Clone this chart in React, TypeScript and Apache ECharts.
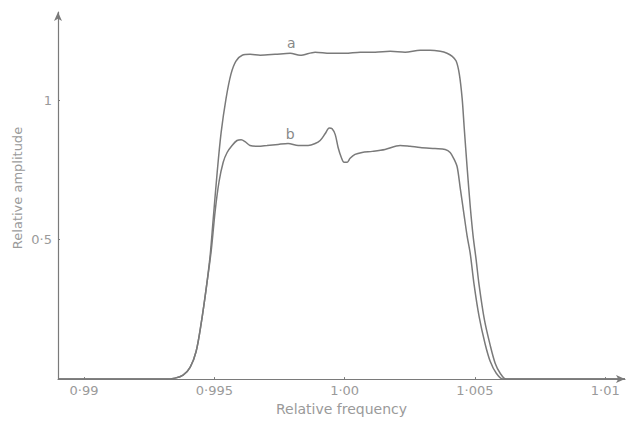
import React, { useEffect, useRef } from "react";
import * as echarts from "echarts";

// Relative frequency / amplitude
const aFreq = [0.989, 0.99311, 0.99349, 0.9938, 0.99407, 0.9943, 0.99449, 0.99468, 0.99484, 0.99495, 0.99511, 0.99526, 0.99545, 0.99564, 0.99583, 0.99607, 0.99637, 0.99676, 0.99733, 0.99791, 0.99829, 0.99887, 0.99944, 1.00002, 1.0006, 1.00117, 1.00175, 1.00232, 1.0029, 1.00328, 1.00367, 1.00393, 1.00413, 1.00428, 1.0044, 1.00451, 1.00459, 1.0047, 1.00482, 1.00493, 1.00505, 1.00516, 1.00536, 1.00559, 1.00578, 1.00597, 1.0062, 1.01076];
const aAmp = [0, 0, 0.0035, 0.014, 0.042, 0.099, 0.197, 0.32, 0.444, 0.567, 0.743, 0.884, 1.007, 1.095, 1.141, 1.162, 1.165, 1.162, 1.165, 1.169, 1.162, 1.173, 1.169, 1.169, 1.173, 1.173, 1.176, 1.173, 1.18, 1.18, 1.176, 1.169, 1.158, 1.141, 1.095, 1.007, 0.901, 0.761, 0.62, 0.514, 0.426, 0.338, 0.215, 0.12, 0.056, 0.021, 0, 0];

const bFreq = [0.989, 0.99311, 0.99349, 0.9938, 0.99407, 0.9943, 0.99449, 0.99468, 0.99488, 0.99503, 0.99518, 0.99534, 0.99549, 0.99568, 0.99587, 0.99603, 0.99618, 0.99637, 0.99668, 0.99702, 0.99745, 0.99783, 0.99822, 0.9986, 0.99887, 0.99906, 0.99925, 0.99941, 0.99952, 0.99964, 0.99975, 0.99987, 0.99998, 1.0001, 1.00021, 1.0004, 1.00067, 1.00106, 1.00155, 1.00213, 1.00251, 1.0029, 1.00347, 1.00386, 1.00405, 1.0042, 1.00432, 1.00443, 1.00459, 1.0047, 1.00482, 1.00497, 1.00516, 1.00539, 1.00559, 1.00582, 1.00608, 1.01076];
const bAmp = [0, 0, 0.0035, 0.014, 0.042, 0.099, 0.197, 0.32, 0.461, 0.602, 0.708, 0.778, 0.813, 0.838, 0.856, 0.859, 0.852, 0.838, 0.835, 0.838, 0.842, 0.845, 0.838, 0.838, 0.845, 0.856, 0.88, 0.901, 0.898, 0.877, 0.831, 0.796, 0.778, 0.778, 0.792, 0.806, 0.813, 0.817, 0.824, 0.838, 0.835, 0.831, 0.827, 0.824, 0.813, 0.789, 0.761, 0.69, 0.585, 0.514, 0.451, 0.338, 0.225, 0.127, 0.063, 0.021, 0, 0];

const xTickValues = [0.99, 0.995, 1.0, 1.005, 1.01];
const xTickLabels = ["0·99", "0·995", "1·00", "1·005", "1·01"];
const yTickValues = [0.5, 1];
const yTickLabels = ["0·5", "1"];

const curveLabels = [
  { name: "a", freq: 0.99795, amp: 1.204 },
  { name: "b", freq: 0.99791, amp: 0.88 },
];

const FONT = "DejaVu Sans";
const TEXT = "#9a9a9a";
const LINE = "#7a7a7a";

export default function App() {
  const ref = useRef<HTMLDivElement>(null);
  useEffect(() => {
    if (!ref.current) return;
    const chart = echarts.init(ref.current, undefined, { renderer: "svg" });
    const pick = (vals: number[], labels: string[]) => (v: number) => {
      for (let i = 0; i < vals.length; i++) if (Math.abs(vals[i] - v) < 1e-6) return labels[i];
      return "";
    };
    const mark = (i: number) => ({
      symbol: "circle",
      symbolSize: 0,
      data: [{ coord: [curveLabels[i].freq, curveLabels[i].amp], value: curveLabels[i].name }],
      label: { show: true, position: "inside", formatter: curveLabels[i].name, color: "#888", fontFamily: FONT, fontSize: 14 },
    });
    chart.setOption({
      animation: false,
      backgroundColor: "#ffffff",
      grid: { left: 58, right: 6, top: 12, bottom: 35, containLabel: false },
      graphic: [
        {
          type: "text",
          x: 17,
          y: 188,
          rotation: Math.PI / 2,
          style: { text: "Relative amplitude", fill: TEXT, font: `13px "${FONT}"`, align: "center", verticalAlign: "middle" },
        },
      ],
      xAxis: {
        type: "value",
        min: 0.989,
        max: 1.01076,
        name: "Relative frequency",
        nameLocation: "middle",
        nameGap: 21,
        nameTextStyle: { color: TEXT, fontFamily: FONT, fontSize: 14 },
        axisLine: { show: true, onZero: false, lineStyle: { color: LINE, width: 1.2 }, symbol: ["none", "arrow"], symbolSize: [6, 9] },
        axisTick: { show: true, inside: true, length: 2, customValues: xTickValues, lineStyle: { color: LINE } },
        axisLabel: { customValues: xTickValues, formatter: pick(xTickValues, xTickLabels), color: TEXT, fontFamily: FONT, fontSize: 13, margin: 5 },
        splitLine: { show: false },
      },
      yAxis: {
        type: "value",
        min: 0,
        max: 1.317,
        axisLine: { show: true, onZero: false, lineStyle: { color: LINE, width: 1.2 }, symbol: ["none", "arrow"], symbolSize: [6, 9] },
        axisTick: { show: true, inside: true, length: 2, customValues: yTickValues, lineStyle: { color: LINE } },
        axisLabel: { customValues: yTickValues, formatter: pick(yTickValues, yTickLabels), color: TEXT, fontFamily: FONT, fontSize: 13, margin: 6 },
        splitLine: { show: false },
      },
      series: [
        {
          name: "a",
          type: "line",
          data: aFreq.map((f, i) => [f, aAmp[i]]),
          symbol: "none",
          smooth: 0.3,
          lineStyle: { color: LINE, width: 1.5 },
          markPoint: mark(0),
        },
        {
          name: "b",
          type: "line",
          data: bFreq.map((f, i) => [f, bAmp[i]]),
          symbol: "none",
          smooth: 0.3,
          lineStyle: { color: LINE, width: 1.5 },
          markPoint: mark(1),
        },
      ],
    });
    return () => chart.dispose();
  }, []);
  return <div ref={ref} style={{ position: "fixed", left: 0, top: 0, width: 631, height: 421, background: "#fff" }} />;
}
